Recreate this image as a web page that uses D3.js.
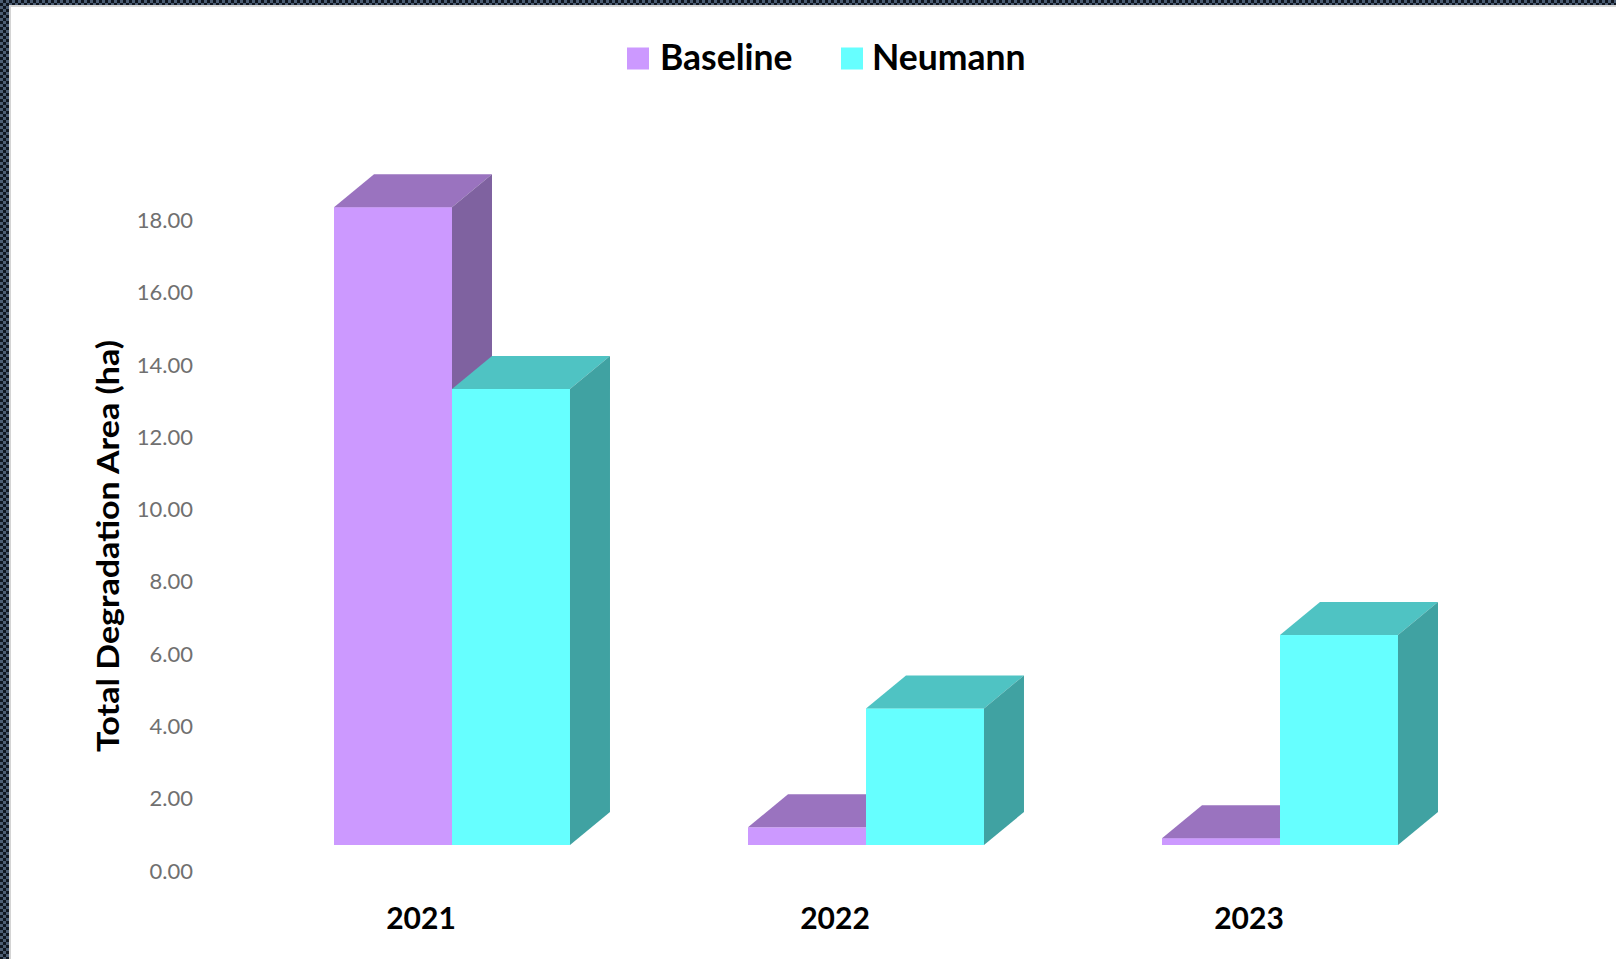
<!DOCTYPE html>
<html>
<head>
<meta charset="utf-8">
<script src="https://cdn.jsdelivr.net/npm/d3@7"></script>
<style>
  html, body { margin: 0; padding: 0; background: #fff; }
  svg { display: block; }
</style>
</head>
<body>
<svg id="chart" width="1616" height="959"></svg>
<script>
// Data
const years = ["2021", "2022", "2023"];
const seriesNames = ["Baseline", "Neumann"];
const baseline = [17.65, 0.49, 0.19];
const neumann = [12.62, 3.78, 5.81];
const yTicks = [0, 2, 4, 6, 8, 10, 12, 14, 16, 18];

const frontColors = { Baseline: "#cc99ff", Neumann: "#66ffff" };
const topColors   = { Baseline: "#9a73bf", Neumann: "#4fc3c3" };
const sideColors  = { Baseline: "#7f62a0", Neumann: "#40a2a2" };

const W = 1616, H = 959;
const svg = d3.select("#chart");

// Frame: checkered band on top and left edges
const defs = svg.append("defs");
const pat = defs.append("pattern")
  .attr("id", "checker").attr("width", 6).attr("height", 6)
  .attr("patternUnits", "userSpaceOnUse");
pat.append("rect").attr("width", 6).attr("height", 6).attr("fill", "#0f1620");
pat.append("rect").attr("x", 0).attr("y", 0).attr("width", 3).attr("height", 3).attr("fill", "#4c5d73");
pat.append("rect").attr("x", 3).attr("y", 3).attr("width", 3).attr("height", 3).attr("fill", "#4c5d73");

svg.append("rect").attr("x", 0).attr("y", 0).attr("width", W).attr("height", 5).attr("fill", "url(#checker)");
svg.append("rect").attr("x", 0).attr("y", 0).attr("width", 9).attr("height", H).attr("fill", "url(#checker)");
svg.append("rect").attr("x", 9).attr("y", 5).attr("width", W - 9).attr("height", 2).attr("fill", "#d4d4d4");
svg.append("rect").attr("x", 9).attr("y", 5).attr("width", 2).attr("height", H - 5).attr("fill", "#d4d4d4");

// Scales (axis plane = front edge of the floor)
const y = d3.scaleLinear().domain([0, 18]).range([871, 220.5]);
const x = d3.scaleBand().domain(years).range([214, 1456]).padding(0);
const groupW = x.bandwidth() * 0.57;
const xs = d3.scaleBand().domain(seriesNames).range([0, groupW]).padding(0);

// 3D projection offsets
const depthX = 40, depthY = 33;        // bar depth
const planeX = 31, planeY = -26;       // bars sit this far behind the axis plane

// Value axis
const yAxis = d3.axisLeft(y).tickValues(yTicks).tickFormat(d3.format(".2f")).tickSize(0).tickPadding(0);
const gy = svg.append("g").attr("transform", "translate(193,0)").call(yAxis);
gy.select(".domain").remove();
gy.selectAll("text")
  .attr("fill", "#707070")
  .style("font-family", "Lato, 'Open Sans', sans-serif")
  .style("font-size", "22px");

// Category axis
const xAxis = d3.axisBottom(x).tickSize(0).tickPadding(0);
const gx = svg.append("g").attr("transform", "translate(0,908)").call(xAxis);
gx.select(".domain").remove();
gx.selectAll("text")
  .attr("fill", "#000")
  .style("font-family", "Lato, 'Open Sans', sans-serif")
  .style("font-weight", "bold")
  .style("font-size", "30px");

// Axis title
svg.append("text")
  .attr("transform", "translate(107,546) rotate(-90)")
  .attr("text-anchor", "middle")
  .attr("dominant-baseline", "central")
  .attr("fill", "#000")
  .attr("textLength", 412)
  .attr("lengthAdjust", "spacingAndGlyphs")
  .style("font-family", "Lato, 'Open Sans', sans-serif")
  .style("font-weight", "bold")
  .style("font-size", "31px")
  .text("Total Degradation Area (ha)");

// Bars
const bars = [];
years.forEach((yr, i) => {
  bars.push({ year: yr, series: "Baseline", value: baseline[i] });
  bars.push({ year: yr, series: "Neumann", value: neumann[i] });
});

const gBars = svg.append("g").attr("transform", `translate(${planeX},${planeY})`);
bars.forEach(d => {
  const x0 = x(d.year) + (x.bandwidth() - groupW) / 2 + xs(d.series);
  const x1 = x0 + xs.bandwidth();
  const yt = y(d.value), yb = y(0);
  const g = gBars.append("g");
  g.append("rect")
    .attr("x", x0).attr("y", yt).attr("width", x1 - x0).attr("height", yb - yt)
    .attr("fill", frontColors[d.series]);
  g.append("polygon")
    .attr("points", [[x0, yt], [x0 + depthX, yt - depthY], [x1 + depthX, yt - depthY], [x1, yt]].join(" "))
    .attr("fill", topColors[d.series]);
  g.append("polygon")
    .attr("points", [[x1, yt], [x1 + depthX, yt - depthY], [x1 + depthX, yb - depthY], [x1, yb]].join(" "))
    .attr("fill", sideColors[d.series]);
});

// Legend
const legendItems = [
  { name: "Baseline", sx: 627, tx: 660 },
  { name: "Neumann", sx: 841, tx: 872 }
];
const gl = svg.append("g");
legendItems.forEach(item => {
  gl.append("rect")
    .attr("x", item.sx).attr("y", 47.5).attr("width", 22).attr("height", 22)
    .attr("fill", frontColors[item.name]);
  gl.append("text")
    .attr("x", item.tx).attr("y", 70)
    .attr("fill", "#000")
    .style("font-family", "Lato, 'Open Sans', sans-serif")
    .style("font-weight", "bold")
    .style("font-size", "35.5px")
    .text(item.name);
});
</script>
</body>
</html>
